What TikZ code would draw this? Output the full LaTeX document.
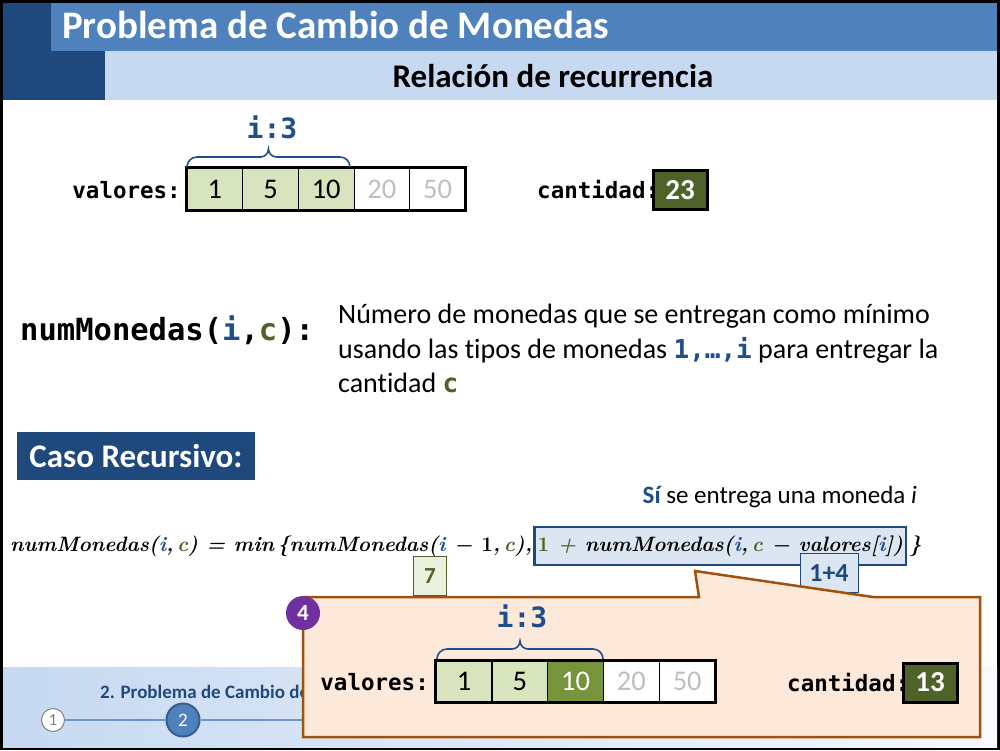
\documentclass[tikz,border=0pt]{standalone}
\usepackage{fontspec}
\newfontfamily\calibri[Ligatures=NoCommon]{Carlito}
\newfontfamily\monofont{DejaVu Sans Mono}
\definecolor{dkblue}{HTML}{1F497D}
\definecolor{tbar}{HTML}{4F81BD}
\definecolor{sbar}{HTML}{C6D9F1}
\definecolor{iblue}{HTML}{1F4E8C}
\definecolor{olivec}{HTML}{4F6228}
\definecolor{cellgreen}{HTML}{D7E4BD}
\definecolor{cellgray}{HTML}{BFBFBF}
\definecolor{darkgreen}{HTML}{77933C}
\definecolor{hlfill}{HTML}{DCE6F2}
\definecolor{greenfill}{HTML}{EBF1DE}
\definecolor{peach}{HTML}{FDE9D9}
\definecolor{brownb}{HTML}{A0500F}
\definecolor{purplec}{HTML}{7030A0}
\definecolor{navline}{HTML}{6F94C8}
\definecolor{navborder}{HTML}{385D8A}
\newcommand{\FormLeft}{numMonedas(\textcolor{iblue}{i},\,\textcolor{olivec}{c}) = min\,\{numMonedas(\textcolor{iblue}{i} − {\upshape 1},\,\textcolor{olivec}{c}),}
\newcommand{\FormMid}{\textcolor{olivec}{{\upshape 1} +} numMonedas(\textcolor{iblue}{i},\,\textcolor{olivec}{c} − valores[\textcolor{iblue}{i}])}
\newcommand{\FormRight}{\}}
% brace: #1 left x, #2 middle x, #3 right x, #4 y of the ends, #5 y of the bar
\newcommand{\bracepath}[5]{%
  \draw[bracestyle] (#1,#4) to[out=90,in=180] (#1+10,#5) -- (#2-8,#5)
    to[out=0,in=270] (#2,#5-8) to[out=270,in=180] (#2+8,#5)
    -- (#3-10,#5) to[out=0,in=90] (#3,#4);}
\tikzset{
  cell/.style={draw=black, line width=0.8pt, minimum width=55.7pt, minimum height=42pt, inner sep=0pt,
    font=\calibri\fontsize{28.5}{31}\selectfont},
  gcell/.style={cell, fill=cellgreen},
  wcell/.style={cell, fill=white, text=cellgray},
  dcell/.style={cell, fill=darkgreen, text=white},
  monolabel/.style={font=\monofont\bfseries\fontsize{22.5}{26}\selectfont, inner sep=0pt},
  ilabel/.style={font=\monofont\bfseries\fontsize{28}{32}\selectfont, text=iblue, inner sep=0pt},
  qtybox/.style={draw=black, line width=3pt, fill=olivec, text=white, minimum width=54pt, minimum height=39pt, inner sep=0pt,
    font=\calibri\bfseries\fontsize{29}{32}\selectfont},
  bracestyle/.style={draw=iblue, line width=1.6pt},
  smallbox/.style={minimum height=39pt, inner sep=0pt, line width=0.8pt, font=\calibri\bfseries\fontsize{23}{26}\selectfont},
  fstyle/.style={inner sep=0pt, font=\rmfamily\bfseries\itshape\fontsize{20.8}{25}\selectfont},
  desctext/.style={anchor=base west, inner sep=0pt, font=\calibri\fontsize{28}{32}\selectfont},
}
\begin{document}
\begin{tikzpicture}[x=1pt,y=-1pt]
\useasboundingbox (0,0) rectangle (1000,750);
% frame
\fill[black] (0,0) rectangle (1000,750);
\fill[white] (3,3) rectangle (997,747);
% header
\fill[dkblue] (3,3) rectangle (105,100);
\fill[tbar] (51,3) rectangle (997,51);
\fill[sbar] (105,51) rectangle (997,100);
\node[anchor=base west, text=white, inner sep=0pt, font=\calibri\bfseries\fontsize{39}{42}\selectfont] (title) at (62,38) {Problema de Cambio de Monedas};
\node[anchor=base, inner sep=0pt, font=\calibri\bfseries\fontsize{33}{36}\selectfont] (subtitle) at (553,87) {Relación de recurrencia};
% nav bar
\shade[left color=sbar, right color=sbar!15] (3,667) rectangle (997,747);
\begin{scope}
\clip (3,667) rectangle (303,747);
\node[anchor=base west, inner sep=0pt, text=dkblue, font=\calibri\bfseries\fontsize{19}{22}\selectfont] (navtext) at (100,698) {2. Problema de Cambio de};
\end{scope}
\node[circle, draw=gray, line width=1pt, fill=white, minimum size=23pt, inner sep=0pt, text=gray, font=\calibri\fontsize{17}{19}\selectfont] (n1) at (53,720) {1};
\node[circle, draw=navborder, line width=2pt, fill=tbar, minimum size=33pt, inner sep=0pt, text=white, font=\calibri\fontsize{19}{21}\selectfont] (n2) at (183,720) {2};
\coordinate (navend) at (310,720);
\draw[navline, line width=1.2pt] (n1) -- (n2);
\draw[navline, line width=1.2pt] (n2) -- (navend);
% top array
\node[monolabel, anchor=east] (val1) at (181,190) {valores:};
\node[gcell] (a1) at (214.8,189) {1};
\node[gcell] (a2) at (270.5,189) {5};
\node[gcell] (a3) at (326.2,189) {10};
\node[wcell] (a4) at (381.9,189) {20};
\node[wcell] (a5) at (437.6,189) {50};
\draw[line width=3pt] (a1.north west) rectangle (a5.south east);
\bracepath{187}{268.5}{350}{167}{157}
\node[ilabel] (i1) at (272,127) {i:3};
\node[monolabel, anchor=west] (cant1) at (537,190) {cantidad:};
\node[qtybox] (q1) at (680,190) {23};
% definition
\node[anchor=west, inner sep=0pt, font=\monofont\bfseries\fontsize{30.5}{34}\selectfont] (nm) at (20,330) {numMonedas(\textcolor{iblue}{i},\textcolor{olivec}{c}):};
\node[desctext] (desc1) at (338,323) {Número de monedas que se entregan como mínimo};
\node[desctext] (desc2) at (338,358) {usando las tipos de monedas {\monofont\bfseries\fontsize{26}{30}\selectfont\color{iblue}1,…,i} para entregar la};
\node[desctext] (desc3) at (338,392) {cantidad {\monofont\bfseries\fontsize{26}{30}\selectfont\color{olivec}c}};
% caso recursivo
\node[fill=dkblue, text=white, minimum width=238pt, minimum height=48pt, inner sep=0pt, font=\calibri\bfseries\fontsize{33}{36}\selectfont] (caso) at (136,456) {Caso Recursivo:};
\node[anchor=base east, inner sep=0pt, font=\calibri\fontsize{25}{28}\selectfont] (si) at (917,503) {{\bfseries\color{iblue}Sí} se entrega una moneda \textit{i}};
% formula
\node[fstyle, anchor=west] (formA) at (10,546) {\FormLeft};
\node[fstyle, anchor=west, fill=hlfill, draw=dkblue, line width=2.5pt, minimum height=38pt, inner xsep=3pt] (formB) at ([xshift=1pt]formA.east) {\FormMid};
\node[fstyle, anchor=west] (formC) at ([xshift=2pt]formB.east) {\FormRight};
% small value boxes
\node[smallbox, draw=olivec, fill=greenfill, text=olivec, minimum width=33pt] (seven) at (430,576) {7};
\node[smallbox, draw=dkblue, fill=hlfill, text=dkblue, minimum width=58pt, font=\calibri\bfseries\fontsize{26}{28}\selectfont] (onefour) at (829,573) {1+4};
% callout
\coordinate (tip) at (695,571);
\filldraw[fill=peach, draw=brownb, line width=2.5pt, line join=miter]
  (303,597) -- (699,597) -- (tip) -- (873,597) -- (980,597) -- (980,737) -- (303,737) -- cycle;
\node[circle, fill=purplec, text=white, minimum size=34pt, inner sep=0pt, font=\calibri\bfseries\fontsize{23}{25}\selectfont] (step4) at (303,613) {4};
% inner array
\node[monolabel, anchor=east] (val2) at (429,682) {valores:};
\node[gcell] (b1) at (464,681.5) {1};
\node[gcell] (b2) at (519.8,681.5) {5};
\node[dcell] (b3) at (575.6,681.5) {10};
\node[wcell] (b4) at (631.4,681.5) {20};
\node[wcell] (b5) at (687.2,681.5) {50};
\draw[line width=3pt] (b1.north west) rectangle (b5.south east);
\bracepath{437}{520}{603}{659}{649}
\node[ilabel] (i2) at (522,616) {i:3};
\node[monolabel, anchor=west] (cant2) at (787,682) {cantidad:};
\node[qtybox] (q2) at (930,682.5) {13};
\end{tikzpicture}
\end{document}
